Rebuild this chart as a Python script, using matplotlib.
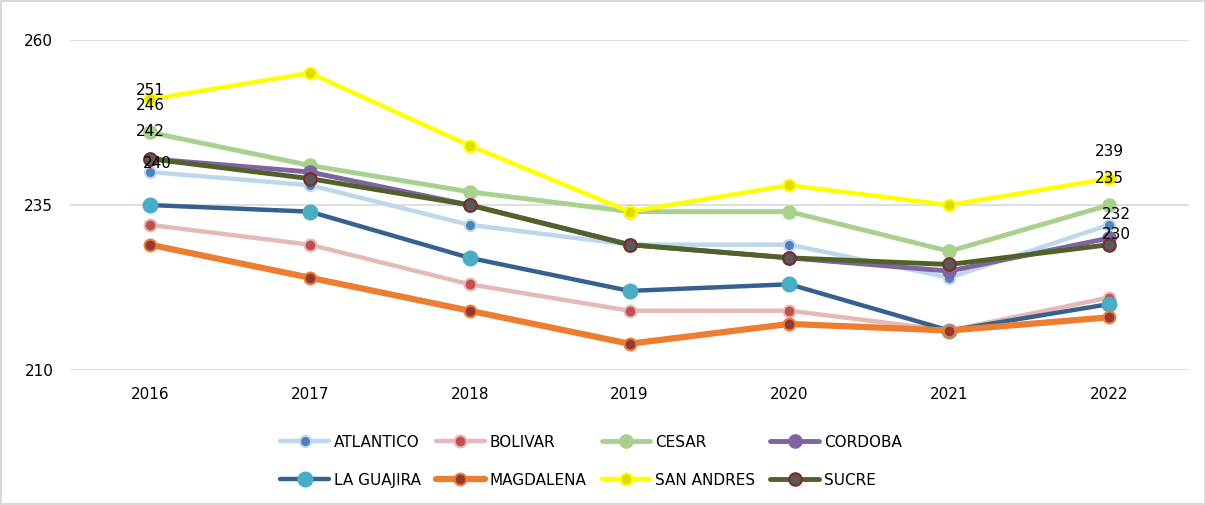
import numpy as np
import matplotlib
matplotlib.use("Agg")
import matplotlib.pyplot as plt

years = ['2016', '2017', '2018', '2019', '2020', '2021', '2022']

atlantico = [240, 238, 232, 229, 229, 224, 232]
bolivar = [232, 229, 223, 219, 219, 216, 221]
cesar = [246, 241, 237, 234, 234, 228, 235]
cordoba = [242, 240, 235, 229, 227, 225, 230]
la_guajira = [235, 234, 227, 222, 223, 216, 220]
magdalena = [229, 224, 219, 214, 217, 216, 218]
san_andres = [251, 255, 244, 234, 238, 235, 239]
sucre = [242, 239, 235, 229, 227, 226, 229]

# name, values, line colour, marker face, marker edge, line width, marker size
series = [
    ('ATLANTICO', atlantico, '#BDD7EE', '#4F81BD', '#BDD7EE', 3.2, 8),
    ('BOLIVAR', bolivar, '#E6B9B8', '#C0504D', '#E6B9B8', 3.2, 8.5),
    ('CESAR', cesar, '#A9D18E', '#A9D18E', '#A9D18E', 3.5, 9),
    ('CORDOBA', cordoba, '#8064A2', '#8064A2', '#8064A2', 3.5, 9),
    ('LA GUAJIRA', la_guajira, '#376092', '#4BACC6', '#4BACC6', 3.2, 10),
    ('MAGDALENA', magdalena, '#ED7D31', '#953735', '#ED7D31', 4.5, 8.5),
    ('SAN ANDRES', san_andres, '#FFFF00', '#DDDD00', '#FFFF00', 3.2, 8.5),
    ('SUCRE', sucre, '#4F6228', '#595959', '#7B2C2C', 3.5, 9),
]

# data labels: (series index, year index, text, offset right / up in points)
labels = [
    (6, 0, '251', 0, 1), (2, 0, '246', 0, 14), (7, 0, '242', 0, 14), (0, 0, '240', 5, 1),
    (6, 6, '239', 0, 14), (2, 6, '235', 0, 14), (0, 6, '232', 5, 2), (3, 6, '230', 5, -3),
]

fig = plt.figure(figsize=(12.06, 5.05), dpi=100)
fig.patch.set_edgecolor('#D9D9D9')
fig.patch.set_linewidth(1.5)
ax = fig.add_axes([0.058, 0.267, 0.928, 0.654])

x = np.arange(len(years))
handles = []
for name, vals, lc, mfc, mec, lw, ms in series:
    h, = ax.plot(x, vals, color=lc, lw=lw, marker='o', markersize=ms,
                 markerfacecolor=mfc, markeredgecolor=mec, markeredgewidth=1.5,
                 label=name, solid_capstyle='round')
    handles.append(h)

for si, yi, txt, dx, dy in labels:
    ax.annotate(txt, (x[yi], series[si][1][yi]), xytext=(dx, dy),
                textcoords='offset points', ha='center', va='bottom', fontsize=11, color='black')

ax.set_xlim(-0.5, 6.5)
ax.set_ylim(210, 260)
ax.set_yticks([210, 235, 260])
ax.set_xticks(x)
ax.set_xticklabels(years)
ax.grid(axis='y', color='#D9D9D9', lw=1.2)
ax.set_axisbelow(True)
for s in ax.spines.values():
    s.set_visible(False)
ax.tick_params(length=0, labelsize=11, colors='black')
ax.tick_params(axis='x', pad=12)
ax.tick_params(axis='y', pad=12)

# legend filled row by row
order = [0, 4, 1, 5, 2, 6, 3, 7]
fig.legend([handles[i] for i in order], [series[i][0] for i in order],
           loc='center', bbox_to_anchor=(0.49, 0.087), ncol=4, frameon=False,
           fontsize=11, handlelength=3.2, columnspacing=1.0, labelspacing=1.5,
           handletextpad=0.3)

fig.savefig('out.png', dpi=100)
